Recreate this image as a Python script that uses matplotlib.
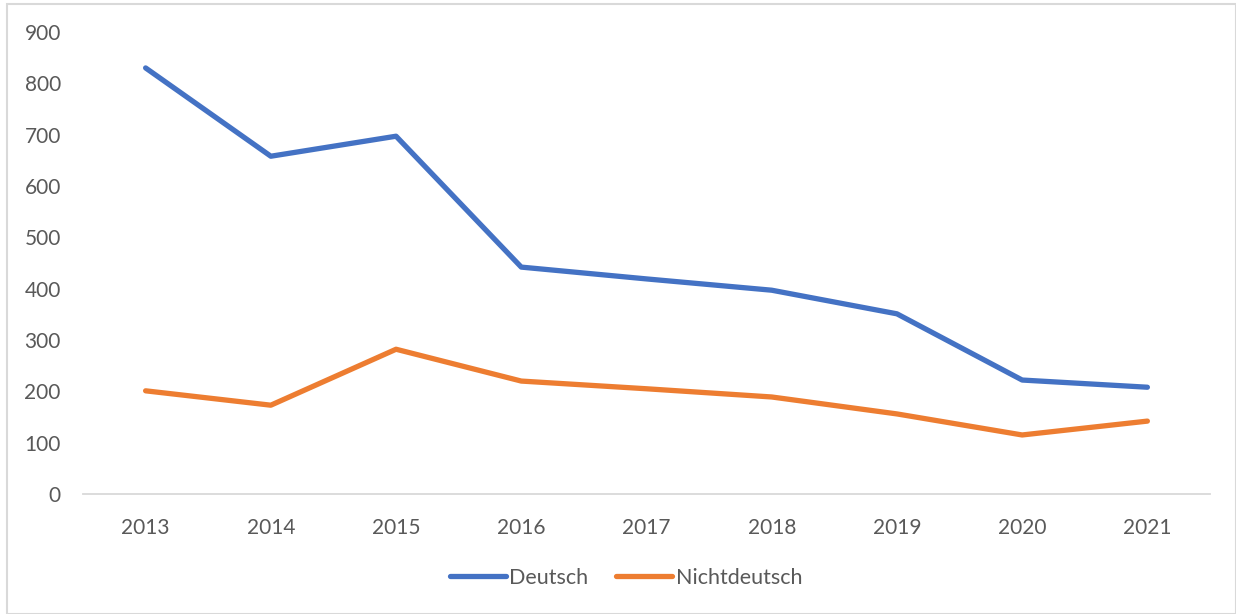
import matplotlib
matplotlib.use("Agg")
import matplotlib.pyplot as plt
from matplotlib.patches import Rectangle

years = ["2013", "2014", "2015", "2016", "2017", "2018", "2019", "2020", "2021"]
deutsch = [830, 658, 697, 442, 419, 397, 351, 222, 208]
nichtdeutsch = [201, 173, 282, 220, 205, 189, 156, 115, 142]
y_ticks = [0, 100, 200, 300, 400, 500, 600, 700, 800, 900]

plt.rcParams['font.family'] = ['Lato', 'DejaVu Sans']
W, H = 1236, 614
fig = plt.figure(figsize=(W / 100, H / 100), dpi=100)
ax = fig.add_axes([83 / W, (H - 494) / H, (1210 - 83) / W, (494 - 32) / H])

x = list(range(len(years)))
ax.plot(x, deutsch, color="#4472C4", lw=3.8, solid_capstyle="round", solid_joinstyle="round", label="Deutsch")
ax.plot(x, nichtdeutsch, color="#ED7D31", lw=3.8, solid_capstyle="round", solid_joinstyle="round", label="Nichtdeutsch")

ax.set_xlim(-0.5, len(years) - 0.5)
ax.set_ylim(0, 900)
ax.set_yticks(y_ticks)
ax.set_yticklabels([str(v) for v in y_ticks])
ax.set_xticks(x)
ax.set_xticklabels(years)
for s in ["top", "right", "left"]:
    ax.spines[s].set_visible(False)
ax.spines["bottom"].set_color("#D9D9D9")
ax.spines["bottom"].set_linewidth(1.3)
ax.tick_params(axis="both", length=0, labelsize=15, labelcolor="#595959")
ax.tick_params(axis="y", pad=16)
ax.tick_params(axis="x", pad=17)

leg = fig.legend(loc="center", bbox_to_anchor=(626 / W, 1 - 578 / H), ncol=2, frameon=False,
                 fontsize=15.5, handlelength=2.6, handletextpad=0.15, columnspacing=1.3)
for t in leg.get_texts():
    t.set_color("#595959")

fig.patches.append(Rectangle((7 / W, 0), 1 - 7 / W, 1 - 4 / H, transform=fig.transFigure,
                             fill=False, edgecolor="#D9D9D9", lw=1.5))

fig.savefig("out.png", dpi=100)
